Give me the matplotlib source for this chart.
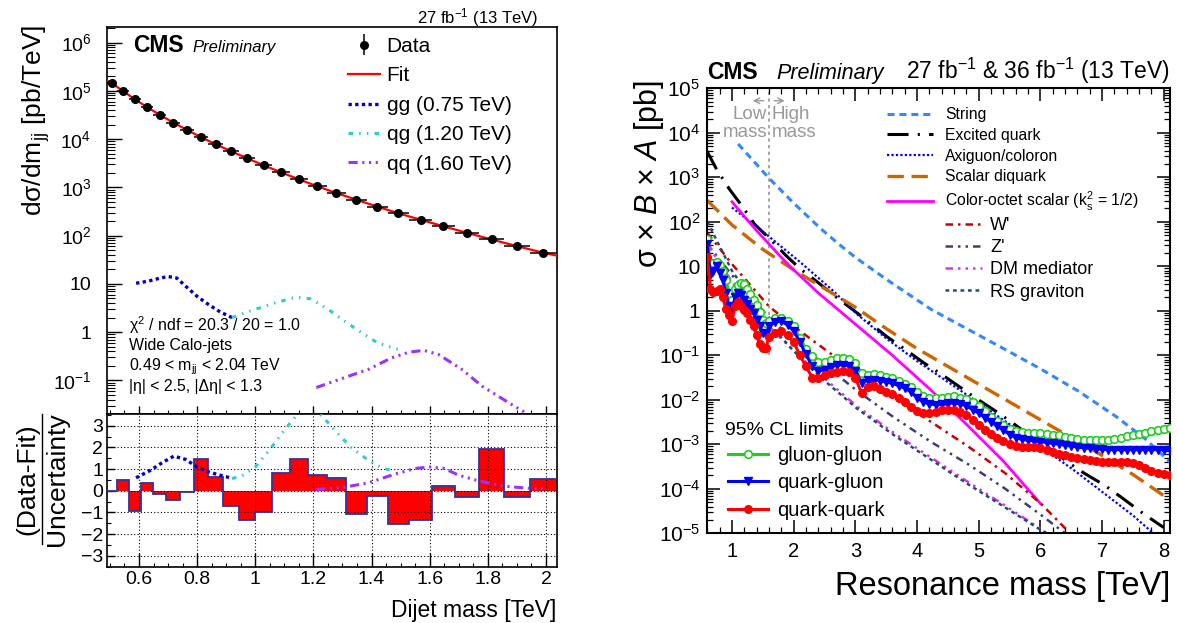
import numpy as np
import matplotlib
matplotlib.use('Agg')
import matplotlib.pyplot as plt
from matplotlib.ticker import FixedLocator, LogLocator, MultipleLocator, FuncFormatter, NullFormatter
from matplotlib.lines import Line2D

plt.rcParams['font.family'] = ['Liberation Sans', 'DejaVu Sans']
plt.rcParams['mathtext.fontset'] = 'custom'
plt.rcParams['mathtext.rm'] = 'Liberation Sans'
plt.rcParams['mathtext.it'] = 'Liberation Sans:italic'
plt.rcParams['mathtext.bf'] = 'Liberation Sans:bold'

# ---------------- LEFT: dijet spectrum ----------------
bin_edges = [0.489, 0.526, 0.565, 0.606, 0.649, 0.693, 0.740, 0.788, 0.838, 0.890, 0.944,
             1.000, 1.058, 1.118, 1.181, 1.246, 1.313, 1.383, 1.455, 1.530, 1.607, 1.687,
             1.770, 1.856, 1.945, 2.037]
data_xsec = [1.42e5, 9.7e4, 6.7e4, 4.6e4, 3.2e4, 2.2e4, 1.56e4, 1.1e4, 7.8e3, 5.6e3, 4.0e3,
             2.85e3, 2.04e3, 1.47e3, 1.05e3, 764, 556, 398, 290, 214, 156, 114, 83, 60, 43.8]
fit_mass = [0.489, 0.5075, 0.5455, 0.5855, 0.6275, 0.671, 0.7165, 0.764, 0.813, 0.864, 0.917,
            0.972, 1.029, 1.088, 1.1495, 1.2135, 1.2795, 1.348, 1.419, 1.4925, 1.5685, 1.647,
            1.7285, 1.813, 1.9005, 1.991, 2.037]
fit_xsec = [1.65e5, 1.43e5, 9.8e4, 6.7e4, 4.6e4, 3.2e4, 2.22e4, 1.56e4, 1.10e4, 7.8e3, 5.6e3,
            4.0e3, 2.86e3, 2.05e3, 1.47e3, 1.05e3, 760, 553, 400, 290, 213, 156, 114, 83,
            60.5, 44, 38.5]
pulls = [0.0, 0.48, -0.95, 0.35, -0.13, -0.42, -0.07, 1.45, 0.65, -0.72, -1.37, -0.97, 0.83,
         1.45, 0.72, 0.58, -1.05, -0.25, -1.52, -1.33, 0.2, -0.27, 1.93, -0.27, 0.55]

gg_mass = [0.59, 0.63, 0.67, 0.70, 0.73, 0.76, 0.80, 0.84, 0.88, 0.92]
gg_xsec = [10.3, 11.3, 13.0, 14.2, 13.2, 9.0, 5.5, 3.7, 2.6, 2.0]
qg_mass = [0.92, 0.98, 1.06, 1.14, 1.19, 1.25, 1.30, 1.35, 1.42, 1.49]
qg_xsec = [2.0, 2.7, 3.9, 5.3, 4.9, 3.0, 1.8, 1.13, 0.60, 0.44]
qq_mass = [1.21, 1.29, 1.39, 1.47, 1.53, 1.58, 1.63, 1.71, 1.78, 1.87, 1.95]
qq_xsec = [0.071, 0.105, 0.17, 0.295, 0.385, 0.418, 0.345, 0.17, 0.076, 0.035, 0.018]

gg_pull_mass = [0.59, 0.64, 0.68, 0.72, 0.76, 0.80, 0.83, 0.87, 0.90, 0.92]
gg_pull = [0.6, 0.95, 1.3, 1.6, 1.45, 1.1, 0.92, 0.75, 0.65, 0.57]
qg_pull_mass = [0.92, 0.95, 1.00, 1.05, 1.10, 1.15, 1.19, 1.23, 1.28, 1.33, 1.39, 1.44, 1.48]
qg_pull = [0.57, 0.65, 1.1, 1.9, 2.8, 3.6, 3.9, 3.45, 2.7, 2.0, 1.4, 1.03, 0.92]
qq_pull_mass = [1.21, 1.30, 1.39, 1.48, 1.55, 1.60, 1.65, 1.70, 1.76, 1.80, 1.85, 1.91, 1.95, 1.99]
qq_pull = [0.06, 0.15, 0.37, 0.77, 1.03, 1.1, 1.03, 0.72, 0.49, 0.37, 0.22, 0.15, 0.11, 0.11]

# ---------------- RIGHT: limits (log10 of sigma*B*A in pb) ----------------
lim_mass = [0.60, 0.65, 0.70, 0.75, 0.80, 0.85, 0.90, 0.95, 1.00, 1.05, 1.10, 1.15, 1.20, 1.25,
            1.30, 1.35, 1.40, 1.45, 1.50, 1.55,
            1.6, 1.7, 1.8, 1.9, 2.0, 2.1, 2.2, 2.3, 2.4, 2.5, 2.6, 2.7, 2.8, 2.9, 3.0, 3.1, 3.2,
            3.3, 3.4, 3.5, 3.6, 3.7, 3.8, 3.9, 4.0, 4.1, 4.2, 4.3, 4.4, 4.5, 4.6, 4.7, 4.8, 4.9,
            5.0, 5.1, 5.2, 5.3, 5.4, 5.5, 5.6, 5.7, 5.8, 5.9, 6.0, 6.1, 6.2, 6.3, 6.4, 6.5, 6.6,
            6.7, 6.8, 6.9, 7.0, 7.1, 7.2, 7.3, 7.4, 7.5, 7.6, 7.7, 7.8, 7.9, 8.0, 8.1]
qq_lim_log = [1.20, 0.50, 0.42, 0.45, 0.48, 0.30, 0.05, -0.10, -0.22, 0.10, 0.20, 0.10, 0.02,
              -0.05, -0.20, -0.35, -0.55, -0.75, -0.83, -0.83,
              -0.60, -0.50, -0.46, -0.55, -0.70, -1.00, -1.25, -1.50, -1.52, -1.45,
              -1.40, -1.37, -1.36, -1.38, -1.50, -1.85, -1.72, -1.70, -1.75, -1.82,
              -1.87, -1.95, -2.05, -2.17, -2.25, -2.30, -2.30, -2.27, -2.24, -2.22,
              -2.22, -2.27, -2.35, -2.45, -2.56, -2.67, -2.77, -2.86, -2.93, -2.99,
              -3.03, -3.05, -3.06, -3.07, -3.08, -3.12, -3.17, -3.22, -3.25, -3.28,
              -3.31, -3.34, -3.36, -3.38, -3.39, -3.39, -3.39, -3.39, -3.40, -3.43,
              -3.47, -3.53, -3.60, -3.64, -3.67, -3.69]
qg_lim_log = [1.50, 0.80, 0.90, 1.00, 0.85, 0.70, 0.40, 0.10, 0.03, 0.30, 0.41, 0.35, 0.25,
              0.15, 0.05, -0.05, -0.20, -0.35, -0.50, -0.53,
              -0.35, -0.25, -0.23, -0.32, -0.45, -0.70, -0.98, -1.25, -1.35, -1.33,
              -1.26, -1.22, -1.21, -1.24, -1.35, -1.62, -1.56, -1.55, -1.57, -1.60,
              -1.63, -1.68, -1.74, -1.82, -1.95, -2.05, -2.09, -2.11, -2.10, -2.08,
              -2.07, -2.09, -2.14, -2.22, -2.30, -2.40, -2.50, -2.59, -2.68, -2.78,
              -2.85, -2.89, -2.91, -2.92, -2.94, -2.96, -2.98, -3.00, -3.02, -3.04,
              -3.06, -3.08, -3.09, -3.10, -3.11, -3.12, -3.12, -3.12, -3.12, -3.12,
              -3.12, -3.12, -3.12, -3.12, -3.12, -3.12]
gg_lim_log = [1.62, 1.02, 1.08, 1.10, 1.04, 0.90, 0.70, 0.40, 0.25, 0.50, 0.58, 0.63, 0.60,
              0.50, 0.38, 0.25, 0.12, -0.02, -0.20, -0.27,
              -0.22, -0.16, -0.16, -0.22, -0.35, -0.62, -0.85, -1.02, -1.15, -1.14,
              -1.10, -1.07, -1.06, -1.09, -1.18, -1.40, -1.45, -1.43, -1.45, -1.49,
              -1.52, -1.57, -1.64, -1.72, -1.82, -1.91, -1.95, -1.96, -1.95, -1.93,
              -1.92, -1.95, -1.99, -2.06, -2.15, -2.26, -2.38, -2.48, -2.57, -2.65,
              -2.70, -2.73, -2.75, -2.75, -2.75, -2.76, -2.78, -2.80, -2.83, -2.86,
              -2.88, -2.90, -2.91, -2.91, -2.91, -2.90, -2.88, -2.85, -2.82, -2.79,
              -2.76, -2.74, -2.71, -2.68, -2.66, -2.63]

string_mass = [1.10, 1.6, 2.0, 2.435, 2.73, 3.0, 3.51, 4.23, 4.83, 5.43, 6.02, 6.62, 7.22, 7.70, 8.1]
string_log = [3.75, 2.98, 2.42, 1.85, 1.50, 1.20, 0.70, 0.03, -0.42, -0.87, -1.32, -1.81, -2.37, -2.88, -3.40]
exq_mass = [0.59, 0.75, 0.96, 1.16, 1.37, 1.62, 1.87, 2.10, 2.40, 2.64, 3.03, 3.51, 3.81, 4.11,
            4.41, 4.68, 4.95, 5.28, 5.55, 5.84, 6.11, 6.44, 6.71, 7.05, 7.32, 7.61, 7.89, 8.0]
exq_log = [3.6, 3.18, 2.73, 2.36, 1.94, 1.61, 1.25, 0.95, 0.63, 0.36, -0.05, -0.58, -0.87, -1.17,
           -1.44, -1.70, -1.96, -2.26, -2.52, -2.82, -3.05, -3.40, -3.65, -3.93, -4.2, -4.5, -4.77, -4.87]
axi_mass = [1.0, 1.24, 1.59, 2.10, 2.64, 3.03, 3.5, 4.0, 4.5, 5.0, 5.5, 6.0, 6.56, 7.05, 7.5, 7.83]
axi_log = [2.32, 2.06, 1.68, 1.10, 0.45, -0.08, -0.62, -1.13, -1.60, -2.07, -2.55, -3.05, -3.60, -4.12, -4.6, -5.0]
diq_mass = [0.6, 1.0, 1.5, 2.0, 2.5, 3.0, 3.5, 4.0, 5.0, 6.0, 7.0, 7.5, 8.1]
diq_log = [2.48, 1.93, 1.38, 0.92, 0.50, 0.08, -0.40, -0.85, -1.65, -2.45, -3.25, -3.68, -4.25]
cos_mass = [1.0, 1.2, 1.4, 1.6, 1.8, 2.0, 2.4, 3.0, 3.6, 4.2, 4.8, 5.4, 6.0]
cos_log = [2.45, 2.12, 1.80, 1.50, 1.20, 0.92, 0.40, -0.30, -1.00, -1.75, -2.55, -3.38, -4.33]
wp_mass = [0.6, 1.0, 1.6, 2.0, 2.44, 3.03, 3.63, 4.23, 4.83, 5.43, 6.02, 6.48]
wp_log = [1.75, 1.05, 0.10, -0.35, -0.80, -1.40, -1.95, -2.50, -3.05, -3.65, -4.35, -5.0]
zp_mass = [0.6, 1.0, 1.6, 2.0, 2.44, 3.03, 3.63, 4.23, 4.83, 5.43, 6.02, 6.4]
zp_log = [1.5, 0.8, -0.15, -0.65, -1.15, -1.8, -2.4, -2.95, -3.45, -4.0, -4.6, -5.0]
dm_mass = [0.6, 1.0, 1.6, 2.0, 2.44, 3.03, 3.63, 4.23, 4.83, 5.43, 6.0, 6.1]
dm_log = [1.5, 0.65, -0.35, -0.9, -1.45, -2.15, -2.75, -3.3, -3.85, -4.38, -4.9, -5.0]
rs_mass = [0.6, 1.0, 1.6, 2.0, 2.44, 3.03, 3.63, 4.23, 4.83, 5.43, 6.0, 6.1]
rs_log = [2.0, 0.9, -0.3, -0.9, -1.5, -2.2, -2.8, -3.35, -3.9, -4.42, -4.92, -5.0]

# ---------------- figure ----------------
W, H = 1178, 623
fig = plt.figure(figsize=(W / 100, H / 100), dpi=100)


def px_axes(l, t, r, b):
    return fig.add_axes([l / W, 1 - b / H, (r - l) / W, (b - t) / H])


def fx(x):
    return x / W


def fy(y):
    return 1 - y / H


def logfmt(v, pos):
    e = int(round(np.log10(v)))
    if e == 0:
        return '1'
    if e == 1:
        return '10'
    return r'$10^{%d}$' % e


def numfmt(v, pos):
    s = '%g' % v
    return s.replace('-', '\u2212')


ax1 = px_axes(106.7, 27.3, 556.7, 414.3)
ax2 = px_axes(106.7, 414.3, 556.7, 567.3)
ax3 = px_axes(707.3, 88.3, 1170, 533.3)

edges = np.array(bin_edges)
centers = 0.5 * (edges[:-1] + edges[1:])
xlo = centers - edges[:-1]
xhi = edges[1:] - centers

# upper left panel
ax1.set_yscale('log')
ax1.set_xlim(0.489, 2.037)
ax1.set_ylim(0.0198, 2.07e6)
ax1.plot(fit_mass, fit_xsec, color='#ff0000', lw=1.6, zorder=3)
ax1.errorbar(centers, data_xsec, xerr=[xlo, xhi], fmt='o', color='black', ms=5.5,
             elinewidth=1.1, capsize=0, zorder=4)
ax1.plot(gg_mass, gg_xsec, color='#0000cc', lw=2.4, ls=(0, (1, 1)), zorder=2)
ax1.plot(qg_mass, qg_xsec, color='#33cccc', lw=2.2, ls=(0, (1.5, 2, 0.5, 2, 0.5, 2)), zorder=2)
ax1.plot(qq_mass, qq_xsec, color='#9933ff', lw=2.2,
         ls=(0, (3, 1.5, 0.7, 1.5, 0.7, 1.5, 0.7, 1.5)), zorder=2)

ax1.yaxis.set_major_locator(FixedLocator([1e-1, 1, 10, 1e2, 1e3, 1e4, 1e5, 1e6]))
ax1.yaxis.set_minor_locator(LogLocator(base=10, subs=np.arange(2, 10), numticks=20))
ax1.yaxis.set_major_formatter(FuncFormatter(logfmt))
ax1.yaxis.set_minor_formatter(NullFormatter())
ax1.xaxis.set_major_locator(MultipleLocator(0.2))
ax1.xaxis.set_minor_locator(MultipleLocator(0.05))
ax1.tick_params(axis='both', which='both', direction='in', top=False, right=False,
                labelbottom=False)
ax1.tick_params(axis='y', which='major', length=11, width=1, labelsize=14, pad=11)
ax1.tick_params(axis='y', which='minor', length=5.5, width=0.8)
ax1.tick_params(axis='x', which='major', length=5.5, width=1)
ax1.tick_params(axis='x', which='minor', length=3, width=0.8)
for s in ax1.spines.values():
    s.set_linewidth(1.2)

h_data = ax1.errorbar([np.nan], [np.nan], yerr=[1], fmt='o', color='black', ms=5.5,
                      elinewidth=1.1, capsize=0)
h_fit = Line2D([], [], color='#ff0000', lw=1.6)
h_gg = Line2D([], [], color='#0000cc', lw=2.4, ls=(0, (1, 1)))
h_qg = Line2D([], [], color='#33cccc', lw=2.2, ls=(0, (1.5, 2, 0.5, 2, 0.5, 2)))
h_qq = Line2D([], [], color='#9933ff', lw=2.2, ls=(0, (3, 1.5, 0.7, 1.5, 0.7, 1.5, 0.7, 1.5)))
ax1.legend([h_data, h_fit, h_gg, h_qg, h_qq],
           ['Data', 'Fit', 'gg (0.75 TeV)', 'qg (1.20 TeV)', 'qq (1.60 TeV)'],
           loc='upper left', bbox_to_anchor=((348 - 106.7) / 450, 1 - (37 - 27.3) / 387),
           frameon=False, fontsize=15, handlelength=1.55, handletextpad=0.3,
           labelspacing=0.5, borderaxespad=0, borderpad=0)

fig.text(fx(133.3), fy(51.7), 'CMS', fontsize=16.5, fontweight='bold', va='baseline')
fig.text(fx(192.7), fy(51.7), 'Preliminary', fontsize=12, fontstyle='italic', va='baseline')
fig.text(fx(538), fy(17.5), r'27 fb$^{-1}$ (13 TeV)', fontsize=12, ha='right', va='center')
info = ['\u03c7$^{2}$ / ndf = 20.3 / 20 = 1.0', 'Wide Calo-jets',
        r'0.49 < m$_{\rm jj}$ < 2.04 TeV', '|\u03b7| < 2.5, |\u0394\u03b7| < 1.3']
for t, y in zip(info, [325, 345.7, 366.7, 386.7]):
    fig.text(fx(129), fy(y), t, fontsize=11.4, va='center')
fig.text(fx(36.5), fy(25), 'd\u03c3/dm$_{\\rm jj}$ [pb/TeV]',
         fontsize=19, rotation=90, ha='center', va='top')

# lower left panel
ax2.set_xlim(0.489, 2.037)
ax2.set_ylim(-3.53, 3.53)
ax2.stairs(pulls, bin_edges, baseline=0, fill=True, color='#ff0000', zorder=2)
ax2.stairs(pulls, bin_edges, baseline=None, color='#333399', lw=1.3, zorder=3)
ax2.plot(gg_pull_mass, gg_pull, color='#0000cc', lw=2.4, ls=(0, (1, 1)), zorder=4)
ax2.plot(qg_pull_mass, qg_pull, color='#33cccc', lw=2.2, ls=(0, (1.5, 2, 0.5, 2, 0.5, 2)), zorder=4)
ax2.plot(qq_pull_mass, qq_pull, color='#9933ff', lw=2.2,
         ls=(0, (3, 1.5, 0.7, 1.5, 0.7, 1.5, 0.7, 1.5)), zorder=4)
ax2.xaxis.set_major_locator(MultipleLocator(0.2))
ax2.xaxis.set_minor_locator(MultipleLocator(0.05))
ax2.yaxis.set_major_locator(MultipleLocator(1))
ax2.yaxis.set_minor_locator(MultipleLocator(0.5))
ax2.xaxis.set_major_formatter(FuncFormatter(numfmt))
ax2.yaxis.set_major_formatter(FuncFormatter(numfmt))
ax2.grid(which='major', color='black', ls=(0, (1, 2)), lw=0.8)
ax2.set_axisbelow(False)
ax2.tick_params(axis='both', which='both', direction='in', top=False, right=False)
ax2.tick_params(axis='x', which='major', length=10, width=1, labelsize=14, pad=3)
ax2.tick_params(axis='x', which='minor', length=3, width=0.8)
ax2.tick_params(axis='y', which='major', length=5.5, width=1, labelsize=14, pad=2.5)
ax2.tick_params(axis='y', which='minor', length=3, width=0.8)
for s in ax2.spines.values():
    s.set_linewidth(1.2)

fig.text(fx(556.7), fy(610), 'Dijet mass [TeV]', fontsize=16.5, ha='right', va='center')
fig.text(fx(27), fy(479), '(Data-Fit)', fontsize=19, rotation=90, ha='center', va='center')
fig.text(fx(57), fy(479), 'Uncertainty', fontsize=19, rotation=90, ha='center', va='center')
fig.add_artist(Line2D([fx(42), fx(42)], [fy(414), fy(544)], color='black', lw=1.0))

# right panel
ax3.set_yscale('log')
ax3.set_xlim(0.6, 8.1)
ax3.set_ylim(1e-5, 1e5)


def P(lst):
    return 10 ** np.array(lst)


s_string = dict(color='#3388ff', lw=2.2, ls=(0, (2.3, 1.6)))
s_exq = dict(color='black', lw=2.2, ls=(0, (6.9, 3, 0.7, 3)))
s_axi = dict(color='#0000ff', lw=1.6, ls=(0, (1, 1)))
s_diq = dict(color='#cc6600', lw=2.4, ls=(0, (4.9, 2.3)))
s_cos = dict(color='#ff00ff', lw=2.0, ls='-')
s_wp = dict(color='#cc0000', lw=1.8, ls=(0, (3, 2, 1, 2)))
s_zp = dict(color='#3d3d7a', lw=1.8, ls=(0, (3, 2, 1, 2, 1, 2)))
s_dm = dict(color='#dd33dd', lw=1.8, ls=(0, (3, 2, 1, 2, 1, 2, 1, 2)))
s_rs = dict(color='#1f4e79', lw=1.8, ls=(0, (1.5, 1.5)))

ax3.plot(string_mass, P(string_log), **s_string, zorder=2)
ax3.plot(exq_mass, P(exq_log), **s_exq, zorder=2)
ax3.plot(axi_mass, P(axi_log), **s_axi, zorder=2)
ax3.plot(diq_mass, P(diq_log), **s_diq, zorder=2)
ax3.plot(cos_mass, P(cos_log), **s_cos, zorder=2)
ax3.plot(wp_mass, P(wp_log), **s_wp, zorder=2)
ax3.plot(zp_mass, P(zp_log), **s_zp, zorder=2)
ax3.plot(dm_mass, P(dm_log), **s_dm, zorder=2)
ax3.plot(rs_mass, P(rs_log), **s_rs, zorder=2)

s_gg = dict(color='#22cc22', lw=2.2, marker='o', ms=5.5, mfc='white', mec='#22cc22', mew=1.2)
s_qgl = dict(color='#0000ff', lw=2.2, marker='v', ms=5.5, mfc='#0000ff', mec='#0000ff')
s_qql = dict(color='#ff0000', lw=2.2, marker='o', ms=5.5, mfc='#ff0000', mec='#ff0000')
ax3.plot(lim_mass, P(gg_lim_log), **s_gg, zorder=5)
ax3.plot(lim_mass, P(qg_lim_log), **s_qgl, zorder=5)
ax3.plot(lim_mass, P(qq_lim_log), **s_qql, zorder=5)

ax3.plot([1.6, 1.6], [0.1, 1e5], color='#999999', lw=1.2, ls=(0, (2, 2)), zorder=1)
ax3.annotate('', xy=(1.29, 10 ** 4.72), xytext=(1.56, 10 ** 4.72),
             arrowprops=dict(arrowstyle='->', color='#999999', lw=1.0))
ax3.annotate('', xy=(1.90, 10 ** 4.72), xytext=(1.64, 10 ** 4.72),
             arrowprops=dict(arrowstyle='->', color='#999999', lw=1.0))
ax3.text(1.57, 10 ** (5 - (115 - 88.3) / 44.5), 'Low', color='#999999', fontsize=13.5,
         ha='right', va='center')
ax3.text(1.57, 10 ** (5 - (133 - 88.3) / 44.5), 'mass', color='#999999', fontsize=13.5,
         ha='right', va='center')
ax3.text(1.64, 10 ** (5 - (115 - 88.3) / 44.5), 'High', color='#999999', fontsize=13.5,
         ha='left', va='center')
ax3.text(1.64, 10 ** (5 - (133 - 88.3) / 44.5), 'mass', color='#999999', fontsize=13.5,
         ha='left', va='center')

ax3.yaxis.set_major_locator(FixedLocator([10.0 ** e for e in range(-5, 6)]))
ax3.yaxis.set_minor_locator(LogLocator(base=10, subs=np.arange(2, 10), numticks=30))
ax3.yaxis.set_major_formatter(FuncFormatter(logfmt))
ax3.yaxis.set_minor_formatter(NullFormatter())
ax3.xaxis.set_major_locator(MultipleLocator(1))
ax3.xaxis.set_minor_locator(MultipleLocator(0.2))
ax3.xaxis.set_major_formatter(FuncFormatter(numfmt))
ax3.tick_params(axis='both', which='both', direction='in', top=True, right=True)
ax3.tick_params(axis='both', which='major', length=9.5, width=1.1)
ax3.tick_params(axis='both', which='minor', length=4.5, width=0.9)
ax3.tick_params(axis='y', which='major', labelsize=15, pad=5)
ax3.tick_params(axis='x', which='major', labelsize=14.5, pad=6)
for s in ax3.spines.values():
    s.set_linewidth(1.5)

leg1 = ax3.legend([Line2D([], [], **s_string), Line2D([], [], **s_exq), Line2D([], [], **s_axi),
                   Line2D([], [], **s_diq), Line2D([], [], **s_cos)],
                  ['String', 'Excited quark', 'Axiguon/coloron', 'Scalar diquark',
                   r'Color-octet scalar (k$_{\rm s}^{2}$ = 1/2)'],
                  loc='upper left', bbox_to_anchor=((887 - 707.3) / 462.7, 1 - (107 - 88.3) / 445),
                  frameon=False, fontsize=11.3, handlelength=2.93, handletextpad=0.76,
                  labelspacing=0.37, borderaxespad=0, borderpad=0)
ax3.add_artist(leg1)
leg2 = ax3.legend([Line2D([], [], **s_wp), Line2D([], [], **s_zp), Line2D([], [], **s_dm),
                   Line2D([], [], **s_rs)],
                  ["W'", "Z'", 'DM mediator', 'RS graviton'],
                  loc='upper left', bbox_to_anchor=((945 - 707.3) / 462.7, 1 - (217 - 88.3) / 445),
                  frameon=False, fontsize=13, handlelength=2.05, handletextpad=0.44,
                  labelspacing=0.29, borderaxespad=0, borderpad=0)
ax3.add_artist(leg2)
ax3.legend([Line2D([], [], **s_gg), Line2D([], [], **s_qgl), Line2D([], [], **s_qql)],
           ['gluon-gluon', 'quark-gluon', 'quark-quark'], numpoints=1,
           loc='upper left', bbox_to_anchor=((728 - 707.3) / 462.7, 1 - (446 - 88.3) / 445),
           frameon=False, fontsize=14.5, handlelength=2.0, handletextpad=0.45,
           labelspacing=0.42, borderaxespad=0, borderpad=0)
ax3.text((725 - 707.3) / 462.7, 1 - (431 - 88.3) / 445, '95% CL limits', fontsize=14,
         transform=ax3.transAxes, va='center')

fig.text(fx(707.3), fy(79.3), 'CMS', fontsize=16.5, fontweight='bold', va='baseline')
fig.text(fx(776), fy(79.3), 'Preliminary', fontsize=15.5, fontstyle='italic', va='baseline')
fig.text(fx(1170), fy(79.3), r'27 fb$^{-1}$ & 36 fb$^{-1}$ (13 TeV)', fontsize=16.5,
         ha='right', va='baseline')
fig.text(fx(1170), fy(587), 'Resonance mass [TeV]', fontsize=23.5, ha='right', va='center')
fig.text(fx(649), fy(80), '\u03c3 \u00d7 $\\it{B}$ \u00d7 $\\it{A}$ [pb]', fontsize=22,
         rotation=90, ha='center', va='top')

fig.savefig('out.png', dpi=100)
